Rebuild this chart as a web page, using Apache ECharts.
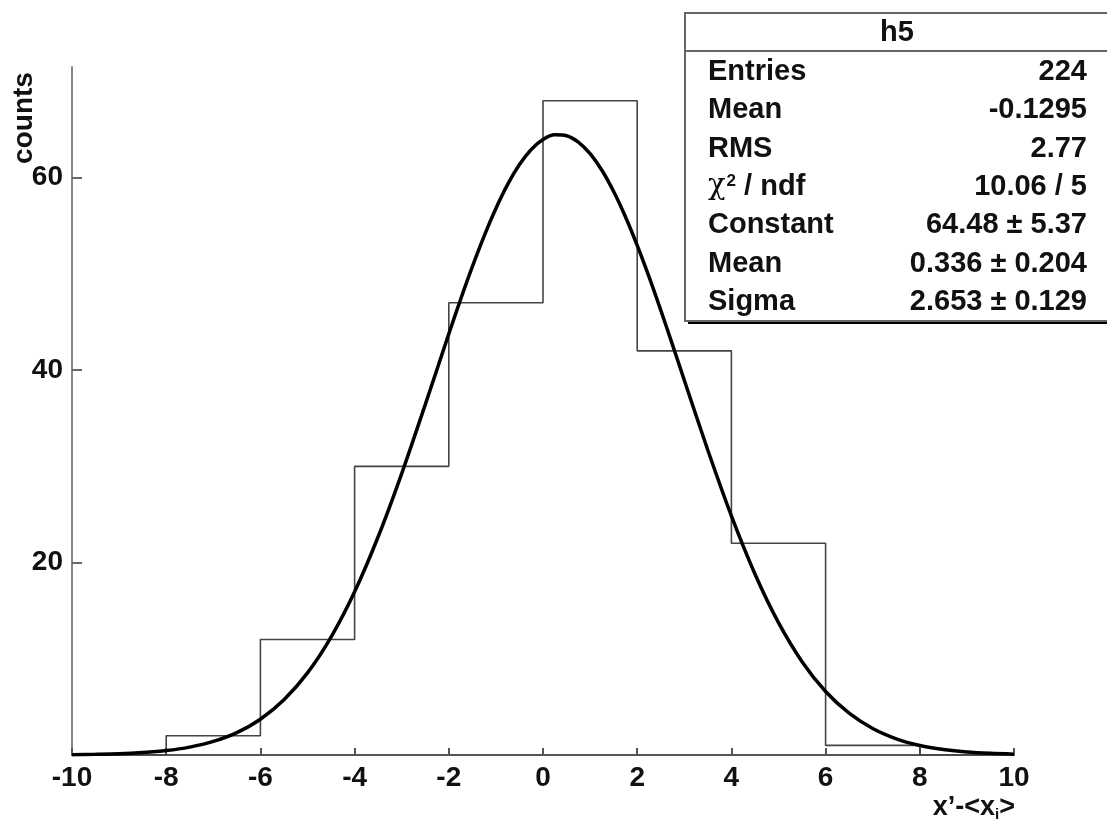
<!DOCTYPE html>
<html>
<head>
<meta charset="utf-8">
<title>h5</title>
<script src="https://cdn.jsdelivr.net/npm/echarts@6/dist/echarts.min.js"></script>
<style>
html, body { margin: 0; padding: 0; background: #fff; }
#chart { width: 1107px; height: 825px; }
</style>
</head>
<body>
<div id="chart"></div>
<script>
// histogram h5: bin edges and counts (last bin empty)
const binEdges = [-10, -8, -6, -4, -2, 0, 2, 4, 6, 8, 10];
const binCounts = [0, 2, 12, 30, 47, 68, 42, 22, 1, 0];

// gaussian fit curve
const fitX = [-10, -9.5, -9, -8.5, -8, -7.5, -7, -6.5, -6, -5.5, -5, -4.5, -4, -3.5, -3, -2.5, -2,
  -1.75, -1.5, -1.25, -1, -0.75, -0.5, -0.25, 0, 0.25, 0.5, 0.75, 1, 1.25, 1.5, 1.75, 2, 2.25, 2.5, 2.75,
  3, 3.5, 4, 4.5, 5, 5.5, 6, 6.5, 7, 7.5, 8, 8.5, 9, 9.5, 10];
const fitY = [0.03, 0.07, 0.13, 0.26, 0.46, 0.82, 1.41, 2.33, 3.72, 5.74, 8.53, 12.25, 16.96, 22.68, 29.25, 36.41, 43.76,
  47.34, 50.75, 53.93, 56.8, 59.3, 61.36, 62.93, 63.96, 64.45, 64.36, 63.7, 62.49, 60.77, 58.56, 55.94, 52.96, 49.71, 46.23, 42.62,
  38.95, 31.67, 24.85, 18.81, 13.75, 9.7, 6.6, 4.34, 2.75, 1.68, 0.99, 0.57, 0.31, 0.17, 0.09];

const yTicks = [20, 40, 60];

// stats box
const statTitle = 'h5';
const statNames = ['Entries', 'Mean', 'RMS', '{chi|χ}{sup|2}{n| / ndf}', 'Constant', 'Mean', 'Sigma'];
const statValues = ['224', '-0.1295', '2.77', '10.06 / 5', '64.48 ± 5.37', '0.336 ± 0.204', '2.653 ± 0.129'];

const FONT = '"Liberation Sans", Arial, sans-serif';

const histData = binCounts.map((c, i) => [binEdges[i], c]);
histData.push([binEdges[binEdges.length - 1], binCounts[binCounts.length - 1]]);

const fitData = fitX.map((x, i) => [x, fitY[i]]);

// stats box graphics
const boxLeft = 685, boxTop = 13, boxBottom = 321;
const statGraphics = [
  {
    type: 'rect', z: 100,
    shape: { x: boxLeft + 3, y: boxTop + 3, width: 440, height: boxBottom - boxTop },
    style: { fill: '#000' }
  },
  {
    type: 'rect', z: 101,
    shape: { x: boxLeft, y: boxTop, width: 440, height: boxBottom - boxTop },
    style: { fill: '#fff', stroke: '#666', lineWidth: 2 }
  },
  {
    type: 'line', z: 102,
    shape: { x1: boxLeft, y1: 51, x2: 1107, y2: 51 },
    style: { stroke: '#666', lineWidth: 2 }
  },
  {
    type: 'text', z: 102, x: 897, y: 33,
    style: { text: statTitle, font: 'bold 29px ' + FONT, fill: '#111', align: 'center', verticalAlign: 'middle' }
  }
];
statNames.forEach((name, i) => {
  const y = 72 + i * 38.3;
  statGraphics.push({
    type: 'text', z: 102, x: 708, y: y,
    style: {
      text: name, font: 'bold 29px ' + FONT, fill: '#111', align: 'left', verticalAlign: 'middle',
      rich: {
        chi: { font: '29px "DejaVu Serif", serif', fill: '#111' },
        sup: { font: 'bold 17px ' + FONT, fill: '#111', verticalAlign: 'top', padding: [0, 0, 12, 1] },
        n: { font: 'bold 29px ' + FONT, fill: '#111' }
      }
    }
  });
  statGraphics.push({
    type: 'text', z: 102, x: 1087, y: y,
    style: { text: statValues[i], font: 'bold 29px ' + FONT, fill: '#111', align: 'right', verticalAlign: 'middle' }
  });
});

// axis titles
const titleGraphics = [
  {
    type: 'text', z: 50, x: 24, y: 118, rotation: Math.PI / 2,
    style: { text: 'counts', font: 'bold 28px ' + FONT, fill: '#111', align: 'center', verticalAlign: 'middle' }
  },
  {
    type: 'text', z: 50, x: 1015, y: 808,
    style: {
      text: "{m|x’-<x}{sub|i}{m|>}", align: 'right', verticalAlign: 'middle',
      rich: {
        m: { font: 'bold 27px ' + FONT, fill: '#111' },
        sub: { font: 'bold 15px ' + FONT, fill: '#111', padding: [14, 0, 0, 0] }
      }
    }
  }
];

const chart = echarts.init(document.getElementById('chart'));
chart.setOption({
  backgroundColor: '#fff',
  animation: false,
  grid: { left: 72, right: 93, top: 67, bottom: 70, containLabel: false },
  xAxis: {
    type: 'value',
    min: -10,
    max: 10,
    interval: 2,
    axisLine: { show: true, onZero: false, lineStyle: { color: '#555', width: 2 } },
    axisTick: { show: true, inside: true, length: 7, lineStyle: { color: '#555', width: 2 } },
    axisLabel: { margin: 9, color: '#111', fontFamily: FONT, fontWeight: 'bold', fontSize: 28 },
    splitLine: { show: false }
  },
  yAxis: {
    type: 'value',
    min: 0,
    max: 71.5,
    interval: 20,
    axisLine: { show: true, onZero: false, lineStyle: { color: '#888', width: 2 } },
    axisTick: { show: true, inside: true, length: 10, customValues: yTicks, lineStyle: { color: '#666', width: 2 } },
    axisLabel: {
      margin: 9, color: '#111', fontFamily: FONT, fontWeight: 'bold', fontSize: 28,
      customValues: yTicks,
      formatter: v => (yTicks.includes(v) ? String(v) : '')
    },
    splitLine: { show: false }
  },
  series: [
    {
      name: 'h5',
      type: 'line',
      step: 'end',
      data: histData,
      symbol: 'none',
      lineStyle: { color: '#444', width: 1.6 },
      z: 2
    },
    {
      name: 'gaus',
      type: 'line',
      data: fitData,
      smooth: 0.3,
      symbol: 'none',
      lineStyle: { color: '#000', width: 3.5 },
      z: 3
    }
  ],
  graphic: titleGraphics.concat(statGraphics)
});
</script>
</body>
</html>
